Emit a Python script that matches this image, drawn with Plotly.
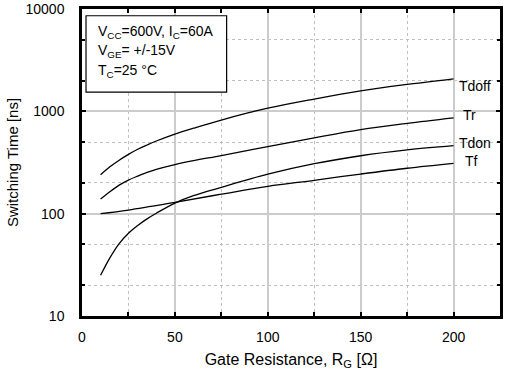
import math
import plotly.graph_objects as go

# Data (Gate resistance [ohm] vs switching time [ns])
rg = [10, 15, 20, 25, 30, 35, 40, 50, 60, 75, 100, 125, 150, 175, 200]
t_doff = [240, 287, 333, 380, 426, 469, 513, 600, 684, 822, 1072, 1318, 1585, 1832, 2080]
t_r = [139, 164, 190, 213, 233, 253, 271, 302, 330, 370, 452, 550, 661, 762, 863]
t_don = [25, 37, 51, 64.5, 76.7, 89, 101, 127, 150, 181, 243, 308, 368, 420, 462]

rg_tf = [10, 25, 50, 75, 100, 125, 150, 175, 200]
t_f = [100, 108.5, 129, 155, 185, 212, 244, 278, 310]

label_names = ["Tdoff", "Tr", "Tdon", "Tf"]
label_values = [1783, 929, 491, 324]

series = [
    (rg, t_doff),
    (rg, t_r),
    (rg, t_don),
    (rg_tf, t_f),
]
label_shift = {"Tdoff": 3, "Tr": 7, "Tdon": 3, "Tf": 9}

FONT = "Liberation Sans, Arial, sans-serif"
fig = go.Figure()
for name, (xs, ys), ly in zip(label_names, series, label_values):
    fig.add_trace(go.Scatter(x=xs, y=ys, mode="lines", name=name,
                             line=dict(color="black", width=1.3, shape="spline", smoothing=1.0),
                             showlegend=False))
    fig.add_annotation(x=xs[-1], y=math.log10(ly), text=name, showarrow=False, xanchor="left",
                       xshift=label_shift[name],
                       font=dict(size=14, color="black", family=FONT))

fig.update_layout(
    width=506, height=370,
    margin=dict(l=82, r=6, t=9, b=54),
    paper_bgcolor="white", plot_bgcolor="white",
    font=dict(family=FONT, size=14, color="black"),
)
fig.update_xaxes(
    range=[0, 225], dtick=50, tick0=0, automargin=False,
    showline=True, linecolor="black", linewidth=2.5, mirror="ticks",
    ticks="inside", ticklen=4, tickcolor="black", tickwidth=1.5,
    showgrid=True, gridcolor="#cccccc", gridwidth=1.5,
    minor=dict(dtick=25, showgrid=True, gridcolor="#c0c0c0", griddash="dot", gridwidth=1,
               ticks="inside", ticklen=4, tickcolor="black"),
    zeroline=False, ticklabelstandoff=6,
    title=dict(text="Gate Resistance, R<sub>G</sub> [Ω]", font=dict(size=16), standoff=15),
)
fig.update_yaxes(
    type="log", range=[1, 4], dtick=1, automargin=False,
    tickvals=[10, 100, 1000, 10000], ticktext=["10", "100", "1000", "10000"],
    showline=True, linecolor="black", linewidth=2.5, mirror="ticks",
    ticks="inside", ticklen=4, tickcolor="black", tickwidth=1.5,
    showgrid=True, gridcolor="#cccccc", gridwidth=1.5,
    minor=dict(dtick="D2", showgrid=True, gridcolor="#c0c0c0", griddash="dot", gridwidth=1,
               ticks="inside", ticklen=3, tickcolor="black"),
    zeroline=False, ticklabelstandoff=12,
    title=dict(text="Switching Time [ns]", font=dict(size=15), standoff=4),
)

fig.add_shape(type="rect", xref="paper", yref="paper",
              x0=0.0096, x1=0.346, y0=0.729, y1=0.978,
              line=dict(color="black", width=1.2), fillcolor="white", layer="above")
cond_lines = [
    "V<sub>CC</sub>=600V, I<sub>C</sub>=60A",
    "V<sub>GE</sub>= +/-15V",
    "T<sub>C</sub>=25 °C",
]
cond_y = [0.926, 0.864, 0.798]
for txt, yy in zip(cond_lines, cond_y):
    fig.add_annotation(xref="paper", yref="paper", x=0.033, y=yy, text=txt,
                       showarrow=False, xanchor="left", yanchor="middle",
                       font=dict(size=14, color="black", family=FONT))

fig.write_html("out.html")
